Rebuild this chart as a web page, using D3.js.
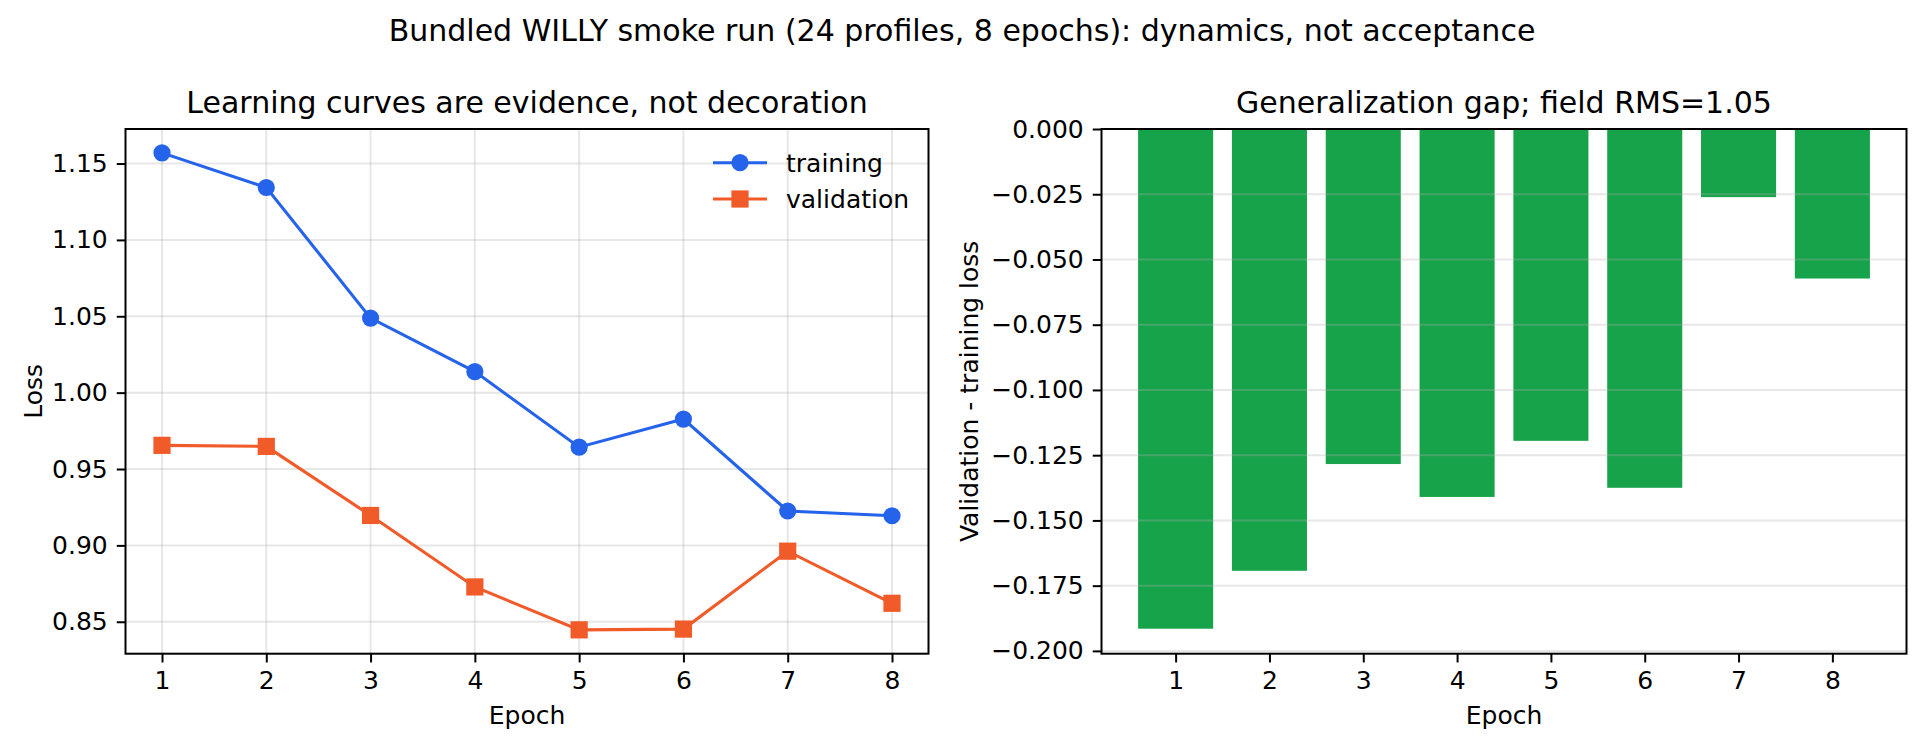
<!DOCTYPE html>
<html>
<head>
<meta charset="utf-8">
<script src="https://cdn.jsdelivr.net/npm/d3@7"></script>
<style>
  html, body { margin: 0; padding: 0; background: #fff; }
  svg { display: block; font-family: "DejaVu Sans", sans-serif; }
</style>
</head>
<body>
<div id="chart"></div>
<script>
// values
const epochs = [1, 2, 3, 4, 5, 6, 7, 8];
const trainLoss = [1.157, 1.1343, 1.0488, 1.0138, 0.9643, 0.9827, 0.9225, 0.9194];
const valLoss = [0.9655, 0.9648, 0.9196, 0.8728, 0.8447, 0.8452, 0.8962, 0.8621];
const gapLoss = [-0.1915, -0.1693, -0.1284, -0.1410, -0.1195, -0.1375, -0.0261, -0.0573];
const lossTicks = [0.85, 0.90, 0.95, 1.00, 1.05, 1.10, 1.15];
const gapTicks = [0, -0.025, -0.05, -0.075, -0.1, -0.125, -0.15, -0.175, -0.2];
const seriesNames = ["training", "validation"];

const width = 1924;
const height = 747;

const blue = "#2563eb";
const orange = "#f15b2a";
const green = "#17a34a";

const fs = 25;
const titleFs = 30;
const tickLen = 8.75;
const mr = 8.6; // marker half size

const left = { x0: 125.5, x1: 928.5, y0: 129, y1: 653.7 };
const right = { x0: 1101.5, x1: 1906.5, y0: 129, y1: 653.7 };

const svg = d3.select("#chart")
  .append("svg")
  .attr("width", width)
  .attr("height", height);

// suptitle
svg.append("text")
  .attr("x", width / 2)
  .attr("y", 41)
  .attr("text-anchor", "middle")
  .attr("font-size", titleFs)
  .text("Bundled WILLY smoke run (24 profiles, 8 epochs): dynamics, not acceptance");

function styleAxis(g) {
  g.select(".domain").remove();
  g.selectAll(".tick line").attr("stroke", "#000").attr("stroke-width", 2);
  g.selectAll(".tick text").attr("font-size", fs).attr("fill", "#000")
    .attr("font-family", "DejaVu Sans");
}

function frame(box) {
  svg.append("rect")
    .attr("x", box.x0).attr("y", box.y0)
    .attr("width", box.x1 - box.x0).attr("height", box.y1 - box.y0)
    .attr("fill", "none").attr("stroke", "#000").attr("stroke-width", 2);
}

function labels(box, title, ylab, ylabX) {
  const cx = (box.x0 + box.x1) / 2;
  svg.append("text").attr("x", cx).attr("y", 113)
    .attr("text-anchor", "middle").attr("font-size", titleFs).text(title);
  svg.append("text").attr("x", cx).attr("y", 724)
    .attr("text-anchor", "middle").attr("font-size", fs).text("Epoch");
  const cy = (box.y0 + box.y1) / 2;
  svg.append("text")
    .attr("transform", `translate(${ylabX},${cy}) rotate(-90)`)
    .attr("text-anchor", "middle").attr("font-size", fs).text(ylab);
}

// ---- left: learning curves ----
const lo = d3.min(valLoss), hi = d3.max(trainLoss);
const pad = (hi - lo) * 0.05;

const x1 = d3.scaleLinear().domain([0.65, 8.35]).range([left.x0, left.x1]);
const y1 = d3.scaleLinear().domain([lo - pad, hi + pad]).range([left.y1, left.y0]);

const grid1 = svg.append("g").attr("stroke", "#b0b0b0").attr("stroke-opacity", 0.3).attr("stroke-width", 2);
grid1.selectAll(".gx").data(epochs).join("line")
  .attr("x1", d => x1(d)).attr("x2", d => x1(d))
  .attr("y1", left.y0).attr("y2", left.y1);
grid1.selectAll(".gy").data(lossTicks).join("line")
  .attr("x1", left.x0).attr("x2", left.x1)
  .attr("y1", d => y1(d)).attr("y2", d => y1(d));

const line1 = d3.line().x((d, i) => x1(epochs[i])).y(d => y1(d));

svg.append("path").datum(trainLoss)
  .attr("d", line1).attr("fill", "none").attr("stroke", blue).attr("stroke-width", 3.1);
svg.append("g").selectAll("circle").data(trainLoss).join("circle")
  .attr("cx", (d, i) => x1(epochs[i])).attr("cy", d => y1(d)).attr("r", mr)
  .attr("fill", blue);

svg.append("path").datum(valLoss)
  .attr("d", line1).attr("fill", "none").attr("stroke", orange).attr("stroke-width", 3.1);
svg.append("g").selectAll("rect").data(valLoss).join("rect")
  .attr("x", (d, i) => x1(epochs[i]) - mr).attr("y", d => y1(d) - mr)
  .attr("width", 2 * mr).attr("height", 2 * mr).attr("fill", orange);

svg.append("g").attr("transform", `translate(0,${left.y1})`)
  .call(d3.axisBottom(x1).tickValues(epochs).tickFormat(d3.format("d")).tickSize(tickLen).tickPadding(9.3))
  .call(styleAxis);
svg.append("g").attr("transform", `translate(${left.x0},0)`)
  .call(d3.axisLeft(y1).tickValues(lossTicks).tickFormat(d3.format(".2f")).tickSize(tickLen).tickPadding(9))
  .call(styleAxis);

frame(left);
labels(left, "Learning curves are evidence, not decoration", "Loss", 41.5);

// legend
const legend = svg.append("g").attr("transform", "translate(713,0)");
const legendRows = [162.7, 199];
seriesNames.forEach((name, i) => {
  const col = i === 0 ? blue : orange;
  const yy = legendRows[i];
  legend.append("line").attr("x1", 0).attr("x2", 54).attr("y1", yy).attr("y2", yy)
    .attr("stroke", col).attr("stroke-width", 3.1);
  if (i === 0) {
    legend.append("circle").attr("cx", 27).attr("cy", yy).attr("r", mr).attr("fill", col);
  } else {
    legend.append("rect").attr("x", 27 - mr).attr("y", yy - mr)
      .attr("width", 2 * mr).attr("height", 2 * mr).attr("fill", col);
  }
  legend.append("text").attr("x", 73).attr("y", yy).attr("dy", "0.36em")
    .attr("font-size", fs).text(name);
});

// ---- right: generalization gap ----
const gmin = d3.min(gapLoss);
const x2 = d3.scaleLinear().domain([0.21, 8.79]).range([right.x0, right.x1]);
const y2 = d3.scaleLinear().domain([gmin * 1.05, 0]).range([right.y1, right.y0]);

svg.append("g").selectAll("rect").data(gapLoss).join("rect")
  .attr("x", (d, i) => x2(epochs[i] - 0.4))
  .attr("width", x2(1.4) - x2(0.6))
  .attr("y", y2(0))
  .attr("height", d => y2(d) - y2(0))
  .attr("fill", green);

svg.append("g").attr("stroke", "#b0b0b0").attr("stroke-opacity", 0.3).attr("stroke-width", 2)
  .selectAll("line").data(gapTicks).join("line")
  .attr("x1", right.x0).attr("x2", right.x1)
  .attr("y1", d => y2(d)).attr("y2", d => y2(d));

svg.append("g").attr("transform", `translate(0,${right.y1})`)
  .call(d3.axisBottom(x2).tickValues(epochs).tickFormat(d3.format("d")).tickSize(tickLen).tickPadding(9.3))
  .call(styleAxis);
svg.append("g").attr("transform", `translate(${right.x0},0)`)
  .call(d3.axisLeft(y2).tickValues(gapTicks).tickFormat(d3.format(".3f")).tickSize(tickLen).tickPadding(9))
  .call(styleAxis);

frame(right);
labels(right, "Generalization gap; field RMS=1.05", "Validation - training loss", 978);
</script>
</body>
</html>
